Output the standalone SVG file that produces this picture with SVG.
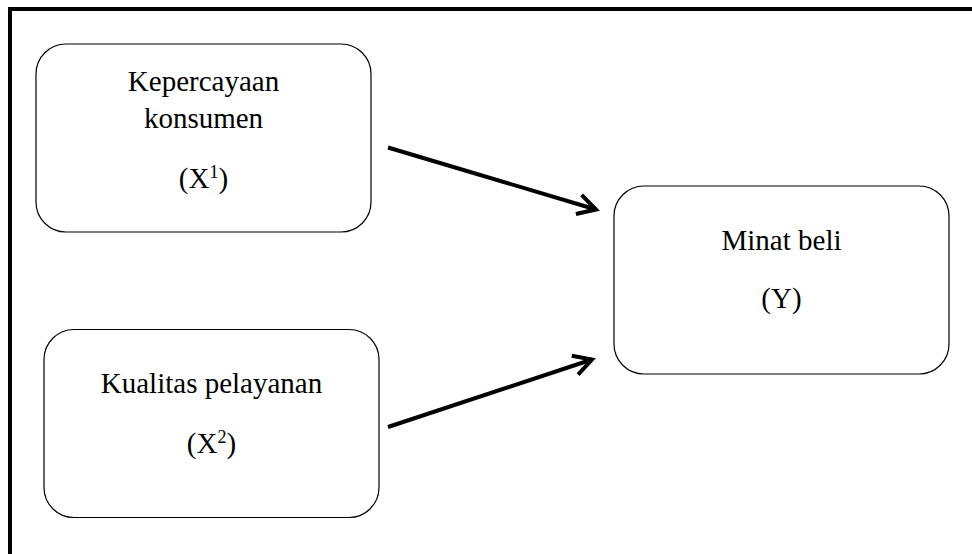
<svg xmlns="http://www.w3.org/2000/svg" width="972" height="554" viewBox="0 0 972 554">
  <style>
    .box { fill: #ffffff; stroke: #000000; stroke-width: 1.2; }
    .lbl { font-family: "Liberation Serif", "Times New Roman", serif; font-size: 29px; fill: #000000; text-anchor: middle; }
    .sup { font-size: 18px; }
    .conn { stroke: #000000; stroke-width: 4; fill: none; }
  </style>
  <defs>
    <marker id="chev" markerUnits="userSpaceOnUse" markerWidth="30" markerHeight="30" viewBox="-24 -15 30 30" refX="0" refY="0" orient="auto">
      <path d="M-18,-10 L0,0 L-18,10" fill="none" stroke="#000000" stroke-width="4" stroke-linejoin="miter" stroke-linecap="butt"/>
    </marker>
  </defs>
  <rect x="0" y="0" width="972" height="554" fill="#ffffff"/>
  <path d="M10,554 V9 H972" fill="none" stroke="#000000" stroke-width="4"/>

  <g id="node-x1">
    <rect class="box" x="36" y="44" width="335" height="188" rx="30" ry="30"/>
    <text class="lbl" x="203.5" y="91">Kepercayaan</text>
    <text class="lbl" x="203.5" y="128">konsumen</text>
    <text class="lbl" x="203.5" y="188">(X<tspan class="sup" dy="-10">1</tspan><tspan dy="10">)</tspan></text>
  </g>

  <g id="node-x2">
    <rect class="box" x="44" y="329.5" width="335" height="188" rx="30" ry="30"/>
    <text class="lbl" x="211.5" y="393">Kualitas pelayanan</text>
    <text class="lbl" x="211.5" y="453">(X<tspan class="sup" dy="-10">2</tspan><tspan dy="10">)</tspan></text>
  </g>

  <g id="node-y">
    <rect class="box" x="614" y="186" width="335" height="188" rx="30" ry="30"/>
    <text class="lbl" x="781.5" y="250">Minat beli</text>
    <text class="lbl" x="781.5" y="308">(Y)</text>
  </g>

  <g id="connectors">
    <line class="conn" x1="388" y1="147.5" x2="596" y2="209.5" marker-end="url(#chev)"/>
    <line class="conn" x1="388" y1="427" x2="592" y2="359.5" marker-end="url(#chev)"/>
  </g>
</svg>
